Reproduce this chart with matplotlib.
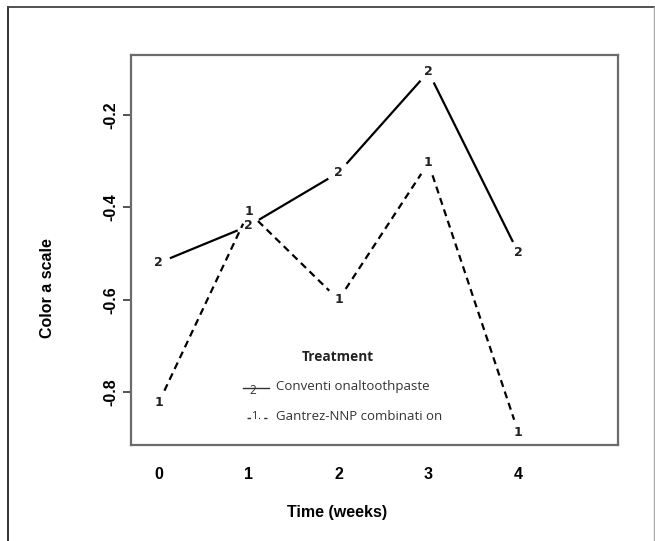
import numpy as np
import matplotlib
matplotlib.use("Agg")
import matplotlib.pyplot as plt
from matplotlib.lines import Line2D

# data
weeks = [0, 1, 2, 3, 4]
conventional = [-0.52, -0.44, -0.325, -0.107, -0.498]   # group "2"
gantrez = [-0.822, -0.41, -0.60, -0.304, -0.886]        # group "1"
series_labels = ["Conventi onaltoothpaste", "Gantrez-NNP combinati on"]
y_ticks = [-0.8, -0.6, -0.4, -0.2]

plt.rcParams['font.family'] = ['Liberation Sans', 'DejaVu Sans']

fig = plt.figure(figsize=(6.55, 5.41), dpi=100)
ax = fig.add_axes([131 / 655, 1 - 445 / 541, 487 / 655, 390 / 541])
ax.set_xlim(-0.31, 5.11)
ax.set_ylim(-0.914, -0.0706)


def gapped(ax, xs, ys, mark, ls, gap=13):
    # lines between points with a gap around each label, like R type="b"
    pts = ax.transData.transform(np.column_stack([xs, ys]))
    inv = ax.transData.inverted()
    for i in range(len(pts) - 1):
        p, q = pts[i], pts[i + 1]
        d = q - p
        L = np.hypot(*d)
        u = d / L
        a = inv.transform(p + u * gap)
        b = inv.transform(q - u * gap)
        line = Line2D([a[0], b[0]], [a[1], b[1]], color='black', lw=1.6)
        if ls == 'dash':
            line.set_dashes([3.2, 2.2])
        ax.add_line(line)
    for x, y in zip(xs, ys):
        ax.text(x, y, mark, ha='center', va='center', fontsize=9,
                fontweight='bold', family='DejaVu Sans', color='#222222')


gapped(ax, weeks, conventional, '2', 'solid')
gapped(ax, weeks, gantrez, '1', 'dash')

for s in ax.spines.values():
    s.set_color('#6b6b6b')
    s.set_linewidth(1.6)

ax.set_xticks(weeks)
ax.set_xticklabels([str(w) for w in weeks], fontsize=11.5, fontweight='bold')
ax.tick_params(axis='x', length=0, pad=16)
ax.set_yticks(y_ticks)
ax.set_yticklabels(["%.1f" % v for v in y_ticks], fontsize=11.5,
                   fontweight='bold', rotation=90, va='center')
ax.tick_params(axis='y', length=6, width=1.3, color='#444444', pad=3)

fig.text(337 / 655, 1 - 512 / 541, "Time (weeks)", ha='center', va='center',
         fontsize=11.5, fontweight='bold')
fig.text(48 / 655, 1 - 288 / 541, "Color a scale", rotation=90,
         ha='center', va='center', fontsize=11.5, fontweight='bold')

# legend drawn by hand
ax.text(0.425, 0.226, "Treatment", transform=ax.transAxes, ha='center',
        va='center', fontsize=9.8, fontweight='bold', family='Open Sans',
        color='#222222')
ax.add_line(Line2D([0.230, 0.283], [0.146, 0.146], transform=ax.transAxes,
                   color='#333333', lw=1.0))
ax.text(0.251, 0.140, '2', transform=ax.transAxes, ha='center', va='center',
        fontsize=8.5, family='Open Sans', color='#333333')
dl = Line2D([0.238, 0.280], [0.069, 0.069], transform=ax.transAxes,
            color='#333333', lw=1.0)
dl.set_dashes([3, 3])
ax.add_line(dl)
ax.text(0.254, 0.072, '1', transform=ax.transAxes, ha='center', va='center',
        fontsize=8, family='Open Sans', color='#333333',
        bbox=dict(facecolor='white', edgecolor='none', pad=0.5))
ax.text(0.298, 0.150, series_labels[0], transform=ax.transAxes, ha='left',
        va='center', fontsize=9.5, family='Open Sans', color='#333333')
ax.text(0.298, 0.073, series_labels[1], transform=ax.transAxes, ha='left',
        va='center', fontsize=9.5, family='Open Sans', color='#333333')

# outer frame (left, top, right; bottom is cut off)
fig.add_artist(Line2D([8 / 655, 8 / 655], [0, 1 - 7 / 541],
                      transform=fig.transFigure, color='#222222', lw=1.3))
fig.add_artist(Line2D([8 / 655, 654 / 655], [1 - 7 / 541, 1 - 7 / 541],
                      transform=fig.transFigure, color='#444444', lw=1.3))
fig.add_artist(Line2D([654 / 655, 654 / 655], [0, 1 - 7 / 541],
                      transform=fig.transFigure, color='#aaaaaa', lw=1.0))

fig.savefig("out.png", dpi=100)
